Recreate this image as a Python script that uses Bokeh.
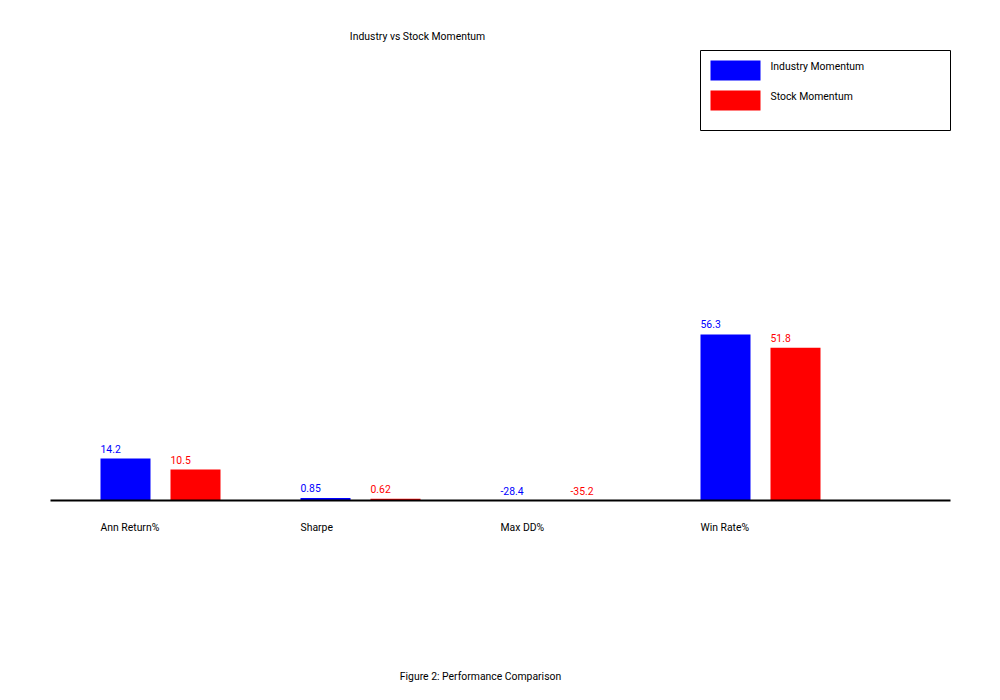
from bokeh.plotting import figure
from bokeh.models import Range1d, ColumnDataSource, Label
from bokeh.core.properties import value
from bokeh.embed import file_html
from bokeh.resources import INLINE
import numpy as np

categories = ["Ann Return%", "Sharpe", "Max DD%", "Win Rate%"]
industry = [14.2, 0.85, -28.4, 56.3]
stock = [10.5, 0.62, -35.2, 51.8]
series_names = ["Industry Momentum", "Stock Momentum"]
colors = ["#0000ff", "#ff0000"]

W, H = 1000, 700
PX_PER_UNIT = 2.95
BASE_PX = 500  # baseline from top
y0 = -(H - BASE_PX) / PX_PER_UNIT
y1 = BASE_PX / PX_PER_UNIT

def X(px):
    return -0.5 + px / 200.0

def Y(py):
    return y0 + (H - py) / PX_PER_UNIT

FONT = value("Roboto")
FS = "10.4px"

p = figure(width=W, height=H, output_backend="svg", toolbar_location=None,
           x_range=Range1d(-0.5, 4.5), y_range=Range1d(y0, y1),
           min_border=0, min_border_left=0, min_border_right=0,
           min_border_top=0, min_border_bottom=0)
p.axis.visible = False
p.grid.visible = False
p.outline_line_color = None
p.background_fill_color = "white"
p.border_fill_color = "white"

idx = np.arange(len(categories))
bar_w = 0.25
offsets = [0.0, 0.35]
for vals, off, col in zip([industry, stock], offsets, colors):
    v = np.array(vals, dtype=float)
    src = ColumnDataSource(dict(
        x=idx + off + bar_w / 2,
        left=idx + off,
        top=np.clip(v, 0, None),
        lab=[f"{a:g}" for a in vals],
    ))
    p.vbar(x="x", width=bar_w, top="top", bottom=0, source=src,
           fill_color=col, line_color=None)
    p.text(x="left", y="top", text="lab", source=src, text_color=col,
           text_font=FONT, text_font_size=FS, text_baseline="alphabetic",
           text_align="left", y_offset=-10)

# baseline
p.segment(x0=[X(50)], y0=[0], x1=[X(950)], y1=[0], line_color="black", line_width=2)

# category labels
p.text(x=idx, y=[Y(527)] * len(idx), text=categories, text_font=FONT,
       text_font_size=FS, text_baseline="middle", text_align="left",
       text_color="black")

# title and caption
p.add_layout(Label(x=X(417), y=Y(36), text="Industry vs Stock Momentum",
                   text_font="Roboto", text_font_size=FS, text_align="center",
                   text_baseline="middle", text_color="black"))
p.add_layout(Label(x=X(480), y=Y(676), text="Figure 2: Performance Comparison",
                   text_font="Roboto", text_font_size=FS, text_align="center",
                   text_baseline="middle", text_color="black"))

# legend
p.quad(left=[X(700)], right=[X(950)], top=[Y(50)], bottom=[Y(130)],
       fill_color="white", line_color="black", line_width=1)
for i, (name, col) in enumerate(zip(series_names, colors)):
    top_px = 60 + 30 * i
    p.quad(left=[X(710)], right=[X(760)], top=[Y(top_px)], bottom=[Y(top_px + 20)],
           fill_color=col, line_color=None)
    p.text(x=[X(770)], y=[Y(top_px + 6)], text=[name], text_font=FONT,
           text_font_size=FS, text_baseline="middle", text_align="left",
           text_color="black")

open("out.html", "w").write(file_html(p, INLINE))
